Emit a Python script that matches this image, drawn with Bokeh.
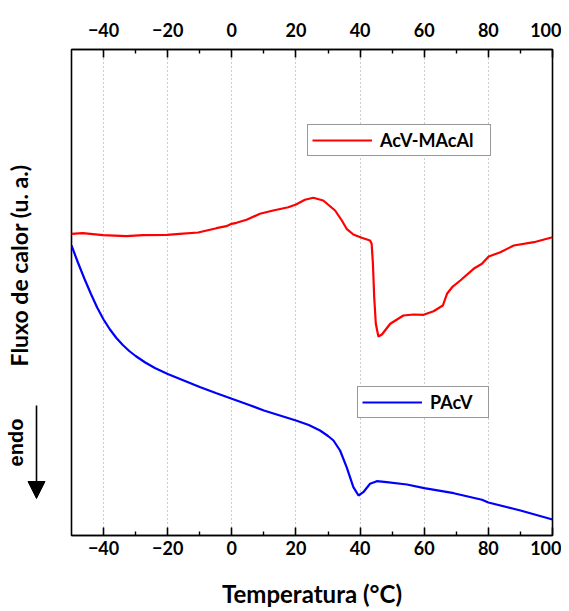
import math
from bokeh.plotting import figure
from bokeh.layouts import row
from bokeh.models import (Range1d, LinearAxis, FixedTicker, Legend, LegendItem,
                          Label, Arrow, NormalHead)
from bokeh.embed import file_html
from bokeh.resources import INLINE

# ---- data (temperature in °C, heat flow in arbitrary units) ----
acv_maca_T = [-50, -46.5, -40.2, -32.9, -27.7, -20.2, -16.25, -10.5, -4.8, -1.7, -0.1,
              1.45, 4.6, 8.75, 12.9, 17.6, 20.0, 22.8, 25.4, 28.5, 32.2, 34.3, 35.8,
              37.9, 40.5, 43.1, 43.6, 44.0, 44.4, 44.9, 45.7, 46.8, 49.4, 53.5, 56.7,
              59.8, 62.9, 65.8, 67.1, 68.7, 71.25, 75.4, 78.0, 80.1, 83.75, 87.9,
              94.2, 100]
acv_maca_Q = [30.17, 30.23, 30.03, 29.93, 30.03, 30.07, 30.17, 30.30, 30.73, 30.93,
              31.17, 31.27, 31.57, 32.17, 32.50, 32.83, 33.10, 33.57, 33.77, 33.50,
              32.50, 31.50, 30.67, 30.10, 29.77, 29.50, 29.17, 27.17, 23.83, 21.17,
              19.90, 20.10, 21.17, 22.00, 22.10, 22.07, 22.43, 23.00, 24.17, 24.83,
              25.50, 26.67, 27.17, 27.90, 28.33, 29.00, 29.33, 29.83]

pacv_T = [-50, -48, -46, -44, -42, -40, -38, -36, -34, -32, -30, -27, -24, -20, -15,
          -10, -5, 0, 5, 10, 15, 20, 24, 27.5, 30, 31.7, 33.75, 35.8, 37.9, 39.5, 41,
          43.1, 45.2, 48.3, 54.6, 60, 69.2, 78, 80, 90, 100]
pacv_Q = [29.00, 27.30, 25.70, 24.20, 22.80, 21.60, 20.60, 19.75, 19.05, 18.45, 17.95,
          17.30, 16.75, 16.15, 15.50, 14.85, 14.25, 13.67, 13.10, 12.50, 12.00, 11.50,
          11.05, 10.50, 9.95, 9.50, 8.50, 6.83, 4.83, 4.00, 4.33, 5.17, 5.43, 5.33,
          5.10, 4.73, 4.23, 3.57, 3.30, 2.50, 1.60]

major_ticks = [-40, -20, 0, 20, 40, 60, 80, 100]
minor_ticks = [-30, -10, 10, 30, 50, 70, 90]
grid_ticks = [-40, -20, 0, 20, 40, 60, 80]

FONT = "Lato"
Y_RANGE = (0, 48.6)

# ---------------- main plot ----------------
p = figure(frame_width=481, frame_height=486, output_backend="svg", toolbar_location=None,
           x_range=Range1d(-50, 100), y_range=Range1d(*Y_RANGE),
           x_axis_location=None, y_axis_location=None,
           min_border_left=23, min_border_right=9, min_border_top=49,
           min_border_bottom=0)
p.background_fill_color = "white"
p.border_fill_color = "white"
p.outline_line_color = "black"
p.outline_line_width = 1.6
p.outline_line_alpha = 1.0

p.ygrid.visible = False
p.xgrid.ticker = FixedTicker(ticks=grid_ticks)
p.xgrid.grid_line_color = "#9a9a9a"
p.xgrid.grid_line_dash = "1 3"
p.xgrid.grid_line_width = 1


def make_axis(standoff):
    ax = LinearAxis(ticker=FixedTicker(ticks=major_ticks, minor_ticks=minor_ticks))
    ax.axis_line_color = "black"
    ax.axis_line_width = 1.6
    ax.major_tick_in = 8
    ax.major_tick_out = 0
    ax.minor_tick_in = 4
    ax.minor_tick_out = 0
    ax.major_tick_line_width = 1.6
    ax.minor_tick_line_width = 1.4
    ax.major_label_text_font = FONT
    ax.major_label_text_font_style = "bold"
    ax.major_label_text_font_size = "18px"
    ax.major_label_text_color = "black"
    ax.major_label_standoff = standoff
    return ax


bottom = make_axis(5)
bottom.axis_label = "Temperatura (°C)"
bottom.axis_label_text_font = FONT
bottom.axis_label_text_font_style = "bold"
bottom.axis_label_text_font_size = "24px"
bottom.axis_label_text_color = "black"
bottom.axis_label_standoff = 21
p.add_layout(bottom, "below")

top = make_axis(13)
p.add_layout(top, "above")

r_red = p.line(acv_maca_T, acv_maca_Q, line_color="#ff0000", line_width=2.2)
r_blue = p.line(pacv_T, pacv_Q, line_color="#0000ff", line_width=2.2)


def make_legend(item, loc, label_width):
    lg = Legend(items=[item], location=loc)
    lg.border_line_color = "#333333"
    lg.border_line_width = 1.2
    lg.background_fill_color = "white"
    lg.background_fill_alpha = 1.0
    lg.label_text_font = FONT
    lg.label_text_font_style = "bold"
    lg.label_text_font_size = "18px"
    lg.label_text_color = "black"
    lg.glyph_width = 60
    lg.glyph_height = 20
    lg.label_standoff = 8
    lg.label_width = label_width
    lg.padding = 4
    lg.margin = 0
    return lg


p.add_layout(make_legend(LegendItem(label="AcV-MAcAl", renderers=[r_red]), (236, 379), 106))
p.add_layout(make_legend(LegendItem(label="PAcV", renderers=[r_blue]), (286, 117), 54))

# ---------------- left strip with y title and "endo" marker ----------------
s = figure(frame_width=48, frame_height=486, output_backend="svg", toolbar_location=None,
           x_range=Range1d(0, 48), y_range=Range1d(*Y_RANGE),
           x_axis_location=None, y_axis_location=None,
           min_border_left=0, min_border_right=0, min_border_top=49, min_border_bottom=0)
s.outline_line_color = None
s.background_fill_color = "white"
s.border_fill_color = "white"
s.xgrid.visible = False
s.ygrid.visible = False

s.add_layout(Label(x=18, y=27.0, text="Fluxo de calor (u. a.)", angle=math.pi / 2,
                   text_align="center", text_baseline="middle", text_font=FONT,
                   text_font_style="bold", text_font_size="23px", text_color="black"))
s.add_layout(Label(x=15.5, y=9.3, text="endo", angle=math.pi / 2,
                   text_align="center", text_baseline="middle",
                   text_font="Liberation Sans", text_font_style="bold",
                   text_font_size="20px", text_color="black"))
s.add_layout(Arrow(x_start=36, y_start=13.0, x_end=36, y_end=3.7,
                   line_color="black", line_width=1.6,
                   end=NormalHead(size=17, fill_color="black", line_color="black")))

layout = row(s, p, spacing=0)
open("out.html", "w").write(file_html(layout, INLINE))
